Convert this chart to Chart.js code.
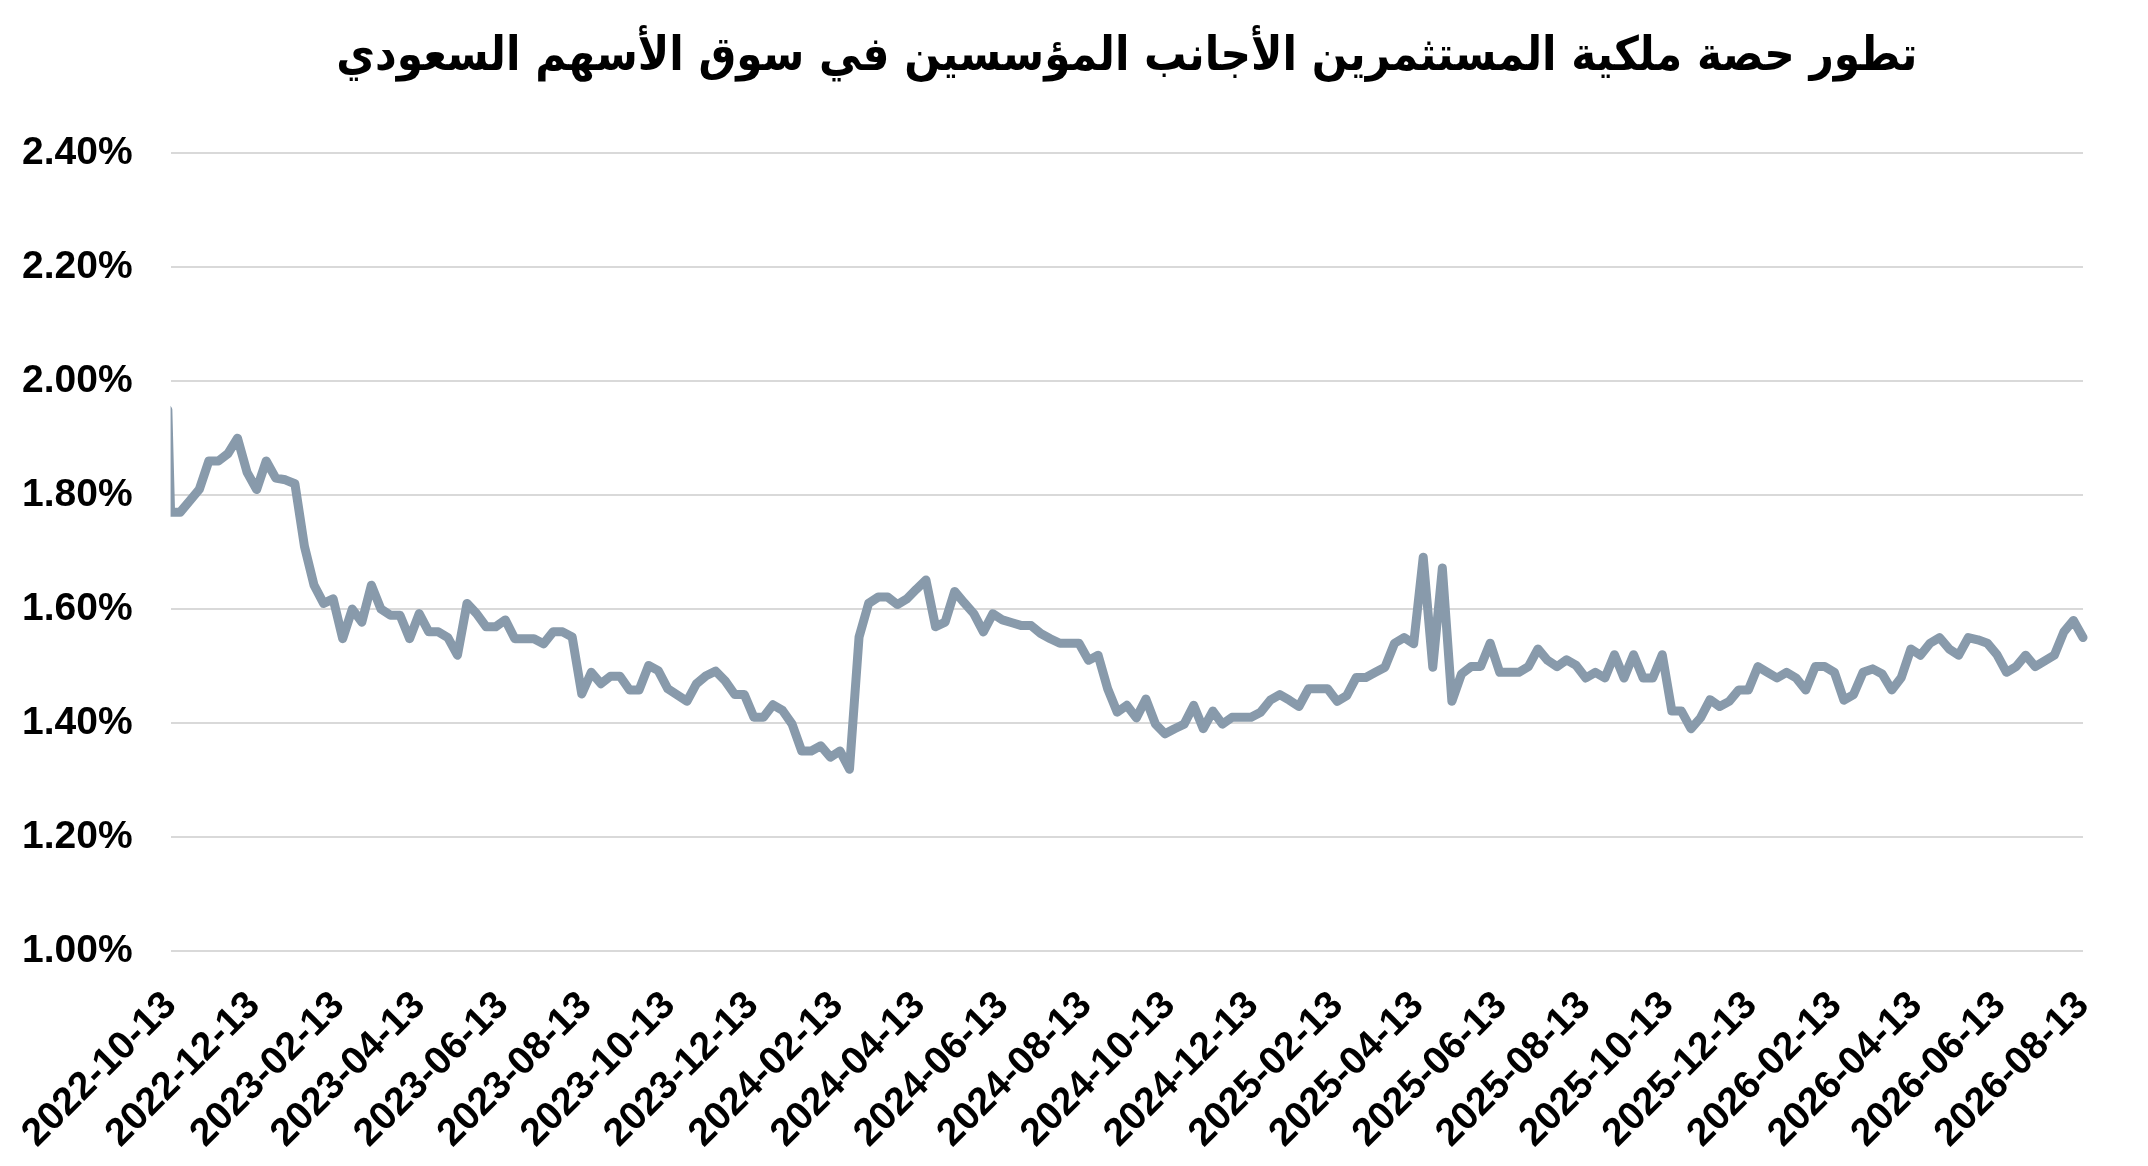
<!DOCTYPE html>
<html lang="ar">
<head>
<meta charset="utf-8">
<title>حصة ملكية المستثمرين الأجانب</title>
<script src="https://cdn.jsdelivr.net/npm/chart.js@4.4.1/dist/chart.umd.min.js"></script>
<style>
    html, body { margin: 0; padding: 0; background: #ffffff; }
    #wrap { width: 2148px; height: 1166px; }
</style>
</head>
<body>
<div id="wrap"><canvas id="share-chart" width="2148" height="1166"></canvas></div>
<script>
// Chart title
const chartTitle = 'تطور حصة ملكية المستثمرين الأجانب المؤسسين في سوق الأسهم السعودي';

// Weekly readings start on this date
const firstWeek = '2022-10-13';

// Short spike just before the first week (clipped at the axis edge)
const openingDate = '2022-10-11';
const openingValue = 1.95;

// Ownership share (%) per week
const shareValues = [
    1.77, 1.77, 1.79, 1.81, 1.86, 1.86, 1.873, 1.90, 1.84, 1.81,
    1.86, 1.83, 1.827, 1.82, 1.71, 1.642, 1.61, 1.618, 1.548, 1.60,
    1.577, 1.642, 1.60, 1.589, 1.589, 1.548, 1.592, 1.56, 1.56, 1.55,
    1.519, 1.61, 1.592, 1.569, 1.569, 1.581, 1.548, 1.548, 1.548, 1.539,
    1.56, 1.56, 1.551, 1.451, 1.489, 1.469, 1.482, 1.482, 1.458, 1.458,
    1.501, 1.492, 1.46, 1.449, 1.438, 1.469, 1.483, 1.491, 1.474, 1.45,
    1.45, 1.41, 1.41, 1.432, 1.422, 1.398, 1.351, 1.351, 1.36, 1.34,
    1.351, 1.319, 1.551, 1.61, 1.621, 1.621, 1.608, 1.618, 1.635, 1.651,
    1.569, 1.577, 1.631, 1.611, 1.592, 1.56, 1.592, 1.581, 1.576, 1.571,
    1.571, 1.557, 1.548, 1.54, 1.54, 1.54, 1.51, 1.519, 1.46, 1.419,
    1.431, 1.409, 1.442, 1.398, 1.381, 1.39, 1.398, 1.431, 1.39, 1.421,
    1.398, 1.41, 1.41, 1.41, 1.419, 1.44, 1.45, 1.44, 1.429, 1.46,
    1.46, 1.46, 1.438, 1.448, 1.48, 1.48, 1.489, 1.498, 1.54, 1.55,
    1.539, 1.691, 1.498, 1.672, 1.438, 1.486, 1.499, 1.499, 1.54, 1.489,
    1.489, 1.489, 1.499, 1.53, 1.51, 1.499, 1.511, 1.501, 1.479, 1.489,
    1.479, 1.52, 1.479, 1.52, 1.479, 1.479, 1.52, 1.421, 1.421, 1.39,
    1.409, 1.441, 1.429, 1.438, 1.458, 1.458, 1.499, 1.489, 1.479, 1.489,
    1.479, 1.458, 1.499, 1.499, 1.489, 1.44, 1.45, 1.489, 1.495, 1.486,
    1.458, 1.48, 1.53, 1.519, 1.54, 1.55, 1.53, 1.519, 1.55, 1.546,
    1.54, 1.52, 1.489, 1.499, 1.519, 1.499, 1.509, 1.519, 1.56, 1.58,
    1.55
];

// X axis tick labels (every two months)
const xTickLabels = [
    '2022-10-13', '2022-12-13', '2023-02-13', '2023-04-13', '2023-06-13',
    '2023-08-13', '2023-10-13', '2023-12-13', '2024-02-13', '2024-04-13',
    '2024-06-13', '2024-08-13', '2024-10-13', '2024-12-13', '2025-02-13',
    '2025-04-13', '2025-06-13', '2025-08-13', '2025-10-13', '2025-12-13',
    '2026-02-13', '2026-04-13', '2026-06-13', '2026-08-13'
];

// Y axis range (%)
const yMin = 1.0;
const yMax = 2.4;
const yStep = 0.2;

const DAY = 86400000;

// Days since the first week
function dayOffset(dateStr) {
    const p = dateStr.split('-').map(Number);
    const f = firstWeek.split('-').map(Number);
    return (Date.UTC(p[0], p[1] - 1, p[2]) - Date.UTC(f[0], f[1] - 1, f[2])) / DAY;
}

// Build the point list: opening spike, then one point per week
const points = [{ x: dayOffset(openingDate), y: openingValue }];
shareValues.forEach((v, i) => points.push({ x: i * 7, y: v }));

const tickPositions = xTickLabels.map(dayOffset);

const tickFont = {
    family: "'Liberation Sans', Arial, sans-serif",
    size: 39,
    weight: 'bold'
};

const ctx = document.getElementById('share-chart').getContext('2d');
new Chart(ctx, {
    type: 'line',
    data: {
        datasets: [{
            data: points,
            borderColor: '#889aab',
            borderWidth: 9,
            borderJoinStyle: 'round',
            borderCapStyle: 'round',
            pointRadius: 0,
            fill: false,
            tension: 0,
            clip: { left: 0, top: false, right: false, bottom: false }
        }]
    },
    options: {
        responsive: false,
        devicePixelRatio: 1,
        animation: false,
        layout: {
            padding: { left: 22, right: 65, top: 0, bottom: 9 }
        },
        plugins: {
            legend: { display: false },
            tooltip: { enabled: false },
            title: {
                display: true,
                text: chartTitle,
                fullSize: false,
                color: '#000000',
                font: { family: "'DejaVu Sans Condensed', 'DejaVu Sans', sans-serif", size: 47, weight: 'bold' },
                padding: { top: 30, bottom: 67 }
            }
        },
        scales: {
            x: {
                type: 'linear',
                min: tickPositions[0],
                max: tickPositions[tickPositions.length - 1],
                afterBuildTicks: scale => {
                    scale.ticks = tickPositions.map(v => ({ value: v }));
                },
                // labels hang off the left edge freely; keep the tick padding once
                afterFit: scale => {
                    scale.paddingLeft = 0;
                    scale.paddingRight = 0;
                    scale.height -= scale.options.ticks.padding;
                },
                grid: { display: false, drawTicks: false },
                border: { display: false },
                ticks: {
                    autoSkip: false,
                    maxRotation: 45,
                    minRotation: 45,
                    padding: 32,
                    color: '#000000',
                    font: tickFont,
                    callback: value => {
                        const k = tickPositions.indexOf(value);
                        return k >= 0 ? xTickLabels[k] : '';
                    }
                }
            },
            y: {
                min: yMin,
                max: yMax,
                // the axis reserves the tick padding twice; keep only one
                afterFit: scale => {
                    scale.width -= scale.options.ticks.padding;
                },
                grid: { color: '#d9d9d9', lineWidth: 2, drawTicks: false },
                border: { display: false },
                ticks: {
                    stepSize: yStep,
                    padding: 38,
                    color: '#000000',
                    font: tickFont,
                    callback: value => value.toFixed(2) + '%'
                }
            }
        }
    }
});
</script>
</body>
</html>
